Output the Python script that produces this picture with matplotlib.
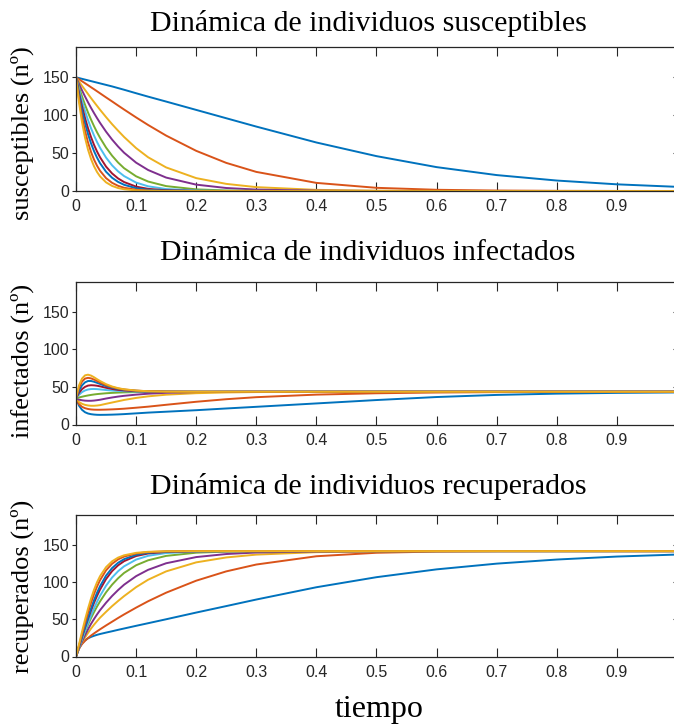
import matplotlib
matplotlib.use("Agg")
import matplotlib.pyplot as plt

# Time samples (shared by every curve)
t = [0, 0.005, 0.01, 0.015, 0.02, 0.025, 0.03, 0.035, 0.04, 0.05, 0.06, 0.07, 0.08,
     0.1, 0.12, 0.15, 0.2, 0.25, 0.3, 0.4, 0.5, 0.6, 0.7, 0.8, 0.9, 1.0]

# Susceptible individuals, one list per contact rate (slowest first)
susceptibles = [
    [150, 149, 148, 147, 146, 145, 144, 143, 142, 140, 138, 135.8, 133.6, 129, 124.5, 118, 107, 96, 85, 64, 46, 31.5, 21, 13.8, 8.8, 5.5],
    [150, 147.4, 144.8, 142.2, 139.6, 136.9, 134.3, 131.6, 128.9, 123.5, 118.2, 112.8, 107.5, 97.1, 87.1, 73.1, 53, 37.1, 25.2, 10.7, 4.2, 1.6, 0.62, 0.24, 0.09, 0.035],
    [150, 144.4, 138.8, 133.4, 128, 122.6, 117.4, 112.3, 107.2, 97.5, 88.2, 79.6, 71.3, 56.6, 44.5, 31.1, 17, 9.4, 5.1, 1.5, 0.46, 0.14, 0.04, 0.01, 0, 0],
    [150, 141.2, 132.8, 124.7, 117, 109.7, 102.8, 96.2, 89.9, 78.3, 67.9, 58.7, 50.5, 37.4, 27.7, 17.7, 8.4, 3.95, 1.87, 0.42, 0.09, 0.02, 0, 0, 0, 0],
    [150, 137, 124.9, 113.8, 103.6, 94.2, 85.5, 77.5, 70.2, 57.3, 46.6, 37.6, 30.1, 19.4, 12.5, 6.46, 2.15, 0.72, 0.24, 0.03, 0, 0, 0, 0, 0, 0],
    [150, 133.6, 118.8, 105.5, 93.5, 82.8, 73.2, 64.6, 57, 44.1, 33.9, 25.9, 19.7, 11.1, 6.2, 2.6, 0.61, 0.14, 0.03, 0, 0, 0, 0, 0, 0, 0],
    [150, 129.6, 111.8, 96.3, 82.8, 71.1, 60.9, 52.1, 44.5, 32.2, 23.2, 16.6, 11.8, 5.8, 2.83, 0.96, 0.16, 0.03, 0, 0, 0, 0, 0, 0, 0, 0],
    [150, 126.5, 106.4, 89.5, 75.1, 62.9, 52.6, 44, 36.7, 25.4, 17.5, 12, 8.2, 3.7, 1.63, 0.46, 0.06, 0, 0, 0, 0, 0, 0, 0, 0, 0],
    [150, 121.5, 98.3, 79.4, 64, 51.5, 41.4, 33.3, 26.7, 17, 10.8, 6.84, 4.3, 1.67, 0.63, 0.14, 0.01, 0, 0, 0, 0, 0, 0, 0, 0, 0],
    [150, 116.8, 90.7, 70.3, 54.5, 42.2, 32.6, 25.1, 19.3, 11.4, 6.7, 3.91, 2.27, 0.75, 0.24, 0.04, 0, 0, 0, 0, 0, 0, 0, 0, 0, 0],
]

# Infected individuals
infectados = [
    [35, 25, 19.5, 16.3, 14.6, 13.7, 13.2, 12.9, 12.8, 12.9, 13.1, 13.4, 13.8, 14.8, 15.8, 17, 19, 21.3, 23.5, 28, 32.5, 36.5, 39.3, 41, 42, 42.6],
    [35, 27, 23.5, 21.7, 20.6, 20, 19.7, 19.6, 19.6, 19.8, 20.1, 20.5, 21, 22.3, 23.7, 26.2, 30.2, 33.6, 36.3, 39.7, 41.5, 42.5, 43, 43.3, 43.4, 43.5],
    [35, 30, 27.5, 26.1, 25.3, 24.9, 24.9, 25.2, 25.7, 27.5, 29.2, 30.9, 32.6, 35.3, 37.4, 39.6, 41.6, 42.6, 43.1, 43.4, 43.5, 43.5, 43.5, 43.5, 43.5, 43.5],
    [35, 33, 32.2, 31.7, 31.5, 31.5, 31.8, 32.3, 32.9, 34.5, 35.9, 37.1, 38.1, 39.7, 40.9, 42.1, 43.1, 43.4, 43.5, 43.5, 43.5, 43.5, 43.5, 43.5, 43.5, 43.5],
    [35, 35.9, 36.9, 37.8, 38.6, 39.3, 39.9, 40.4, 40.8, 41.5, 42, 42.4, 42.7, 43.1, 43.3, 43.45, 43.5, 43.5, 43.5, 43.5, 43.5, 43.5, 43.5, 43.5, 43.5, 43.5],
    [35, 39.5, 43, 45.2, 46.5, 47.1, 47.2, 47, 46.6, 45.8, 45.1, 44.6, 44.2, 43.8, 43.6, 43.5, 43.5, 43.5, 43.5, 43.5, 43.5, 43.5, 43.5, 43.5, 43.5, 43.5],
    [35, 42, 47, 50, 51.7, 52.2, 52, 51.5, 50.7, 48.8, 47.2, 46, 45.2, 44.3, 43.9, 43.6, 43.5, 43.5, 43.5, 43.5, 43.5, 43.5, 43.5, 43.5, 43.5, 43.5],
    [35, 45, 52, 56, 57.8, 57.8, 56.8, 55.4, 53.9, 51, 48.8, 47.2, 46.1, 44.8, 44.1, 43.7, 43.5, 43.5, 43.5, 43.5, 43.5, 43.5, 43.5, 43.5, 43.5, 43.5],
    [35, 49, 57, 61, 62, 61.3, 59.7, 57.8, 55.8, 52.3, 49.7, 47.8, 46.5, 45, 44.2, 43.7, 43.5, 43.5, 43.5, 43.5, 43.5, 43.5, 43.5, 43.5, 43.5, 43.5],
    [35, 52, 61, 65.3, 66.2, 65, 62.8, 60.2, 57.8, 53.6, 50.5, 48.3, 46.8, 45.1, 44.2, 43.7, 43.5, 43.5, 43.5, 43.5, 43.5, 43.5, 43.5, 43.5, 43.5, 43.5],
]

# Recovered individuals
recuperados = [
    [0, 11, 17.5, 21.7, 24.4, 26.3, 27.8, 29.1, 30.2, 32.1, 33.9, 35.8, 37.6, 41.2, 44.7, 50, 59, 67.7, 76.5, 93, 106.5, 117, 124.7, 130.2, 134.2, 136.9],
    [0, 10.6, 16.7, 21.1, 24.8, 28.1, 31, 33.8, 36.5, 41.7, 46.7, 51.7, 56.5, 65.6, 74.2, 85.7, 101.8, 114.3, 123.5, 134.6, 139.3, 140.9, 141.4, 141.5, 141.5, 141.5],
    [0, 10.6, 18.7, 25.5, 31.7, 37.5, 42.7, 47.5, 52.1, 60, 67.6, 74.5, 81.1, 93.1, 103.1, 114.3, 126.4, 133, 136.8, 140.1, 141, 141.4, 141.5, 141.5, 141.5, 141.5],
    [0, 10.8, 20, 28.6, 36.5, 43.8, 50.4, 56.5, 62.2, 72.2, 81.2, 89.2, 96.4, 107.9, 116.4, 125.2, 133.5, 137.6, 139.6, 141.1, 141.4, 141.5, 141.5, 141.5, 141.5, 141.5],
    [0, 12.1, 23.2, 33.4, 42.8, 51.5, 59.6, 67.1, 74, 86.2, 96.4, 105, 112.2, 122.5, 129.2, 135.1, 139.4, 140.8, 141.3, 141.5, 141.5, 141.5, 141.5, 141.5, 141.5, 141.5],
    [0, 11.9, 23.2, 34.3, 45, 55.1, 64.6, 73.4, 81.4, 95.1, 106, 114.5, 121.1, 130.1, 135.2, 138.9, 140.9, 141.4, 141.5, 141.5, 141.5, 141.5, 141.5, 141.5, 141.5, 141.5],
    [0, 13.4, 26.2, 38.7, 50.5, 61.7, 72.1, 81.4, 89.8, 104, 114.6, 122.4, 128, 134.9, 138.3, 140.4, 141.3, 141.5, 141.5, 141.5, 141.5, 141.5, 141.5, 141.5, 141.5, 141.5],
    [0, 13.5, 26.6, 39.5, 52.1, 64.3, 75.6, 85.6, 94.4, 108.6, 118.7, 125.8, 130.7, 136.5, 139.3, 140.8, 141.4, 141.5, 141.5, 141.5, 141.5, 141.5, 141.5, 141.5, 141.5, 141.5],
    [0, 14.5, 29.7, 44.6, 59, 72.2, 83.9, 93.9, 102.5, 115.7, 124.5, 130.4, 134.2, 138.3, 140.2, 141.2, 141.5, 141.5, 141.5, 141.5, 141.5, 141.5, 141.5, 141.5, 141.5, 141.5],
    [0, 16.2, 33.3, 49.4, 64.3, 77.8, 89.6, 99.7, 107.9, 120, 127.8, 132.8, 135.9, 139.2, 140.6, 141.3, 141.5, 141.5, 141.5, 141.5, 141.5, 141.5, 141.5, 141.5, 141.5, 141.5],
]

titles = ["Dinámica de individuos susceptibles",
          "Dinámica de individuos infectados",
          "Dinámica de individuos recuperados"]
ylabels = ["susceptibles (nº)", "infectados (nº)", "recuperados (nº)"]
xlabel = "tiempo"
xticks = [0, 0.1, 0.2, 0.3, 0.4, 0.5, 0.6, 0.7, 0.8, 0.9, 1.0]
xticklabels = ["0", "0.1", "0.2", "0.3", "0.4", "0.5", "0.6", "0.7", "0.8", "0.9", ""]
yticks = [0, 50, 100, 150]

colors = ["#0072BD", "#D95319", "#EDB120", "#7E2F8E", "#77AC30",
          "#4DBEEE", "#A2142F"]

W, H = 674, 728
fig = plt.figure(figsize=(W / 100, H / 100), dpi=100)

axis_color = "#262626"
serif = ["Liberation Serif", "DejaVu Serif"]
tick_font = ["Liberation Sans Narrow", "Liberation Sans", "DejaVu Sans"]

# axes boxes in pixels: (top, bottom)
boxes = [(47, 191), (281.5, 424.5), (515, 656.5)]
left_px, right_px = 76, 677
title_base = [31, 260, 494]
ylabel_center = [133, 361, 586]

panels = [susceptibles, infectados, recuperados]
for i, (data, (top, bot)) in enumerate(zip(panels, boxes)):
    ax = fig.add_axes([left_px / W, 1 - bot / H, (right_px - left_px) / W, (bot - top) / H])
    for k, series in enumerate(data):
        ax.plot(t, series, color=colors[k % len(colors)], lw=1.4)
    ax.set_xlim(0, 1)
    ax.set_ylim(0, 190)
    ax.set_xticks(xticks)
    ax.set_xticklabels(xticklabels)
    ax.set_yticks(yticks)
    ax.tick_params(axis="x", direction="in", length=6.5, width=0.8, top=True, bottom=True,
                   colors=axis_color, pad=6)
    ax.tick_params(axis="y", direction="out", length=3.2, width=0.8, left=True, right=False,
                   colors=axis_color, pad=1.5)
    for lab in ax.get_xticklabels() + ax.get_yticklabels():
        lab.set_family(tick_font)
        lab.set_fontsize(11.5)
        lab.set_color(axis_color)
    sec = ax.secondary_yaxis("right")
    sec.set_yticks(yticks)
    sec.tick_params(axis="y", direction="in", length=3.2, width=0.8, labelright=False,
                    colors=axis_color)
    for sp in list(ax.spines.values()) + [sec.spines["right"]]:
        sp.set_color(axis_color)
        sp.set_linewidth(0.9)

    fig.text(368 / W, 1 - title_base[i] / H, titles[i], family=serif, fontsize=21.5,
             ha="center", va="baseline", color="black")
    fig.text(22 / W, 1 - ylabel_center[i] / H, ylabels[i], family=serif, fontsize=19,
             rotation=90, ha="center", va="center", color="black")

fig.text(379 / W, 1 - 717 / H, xlabel, family=serif, fontsize=23, ha="center",
         va="baseline", color="black")

fig.savefig("out.png", dpi=100)
